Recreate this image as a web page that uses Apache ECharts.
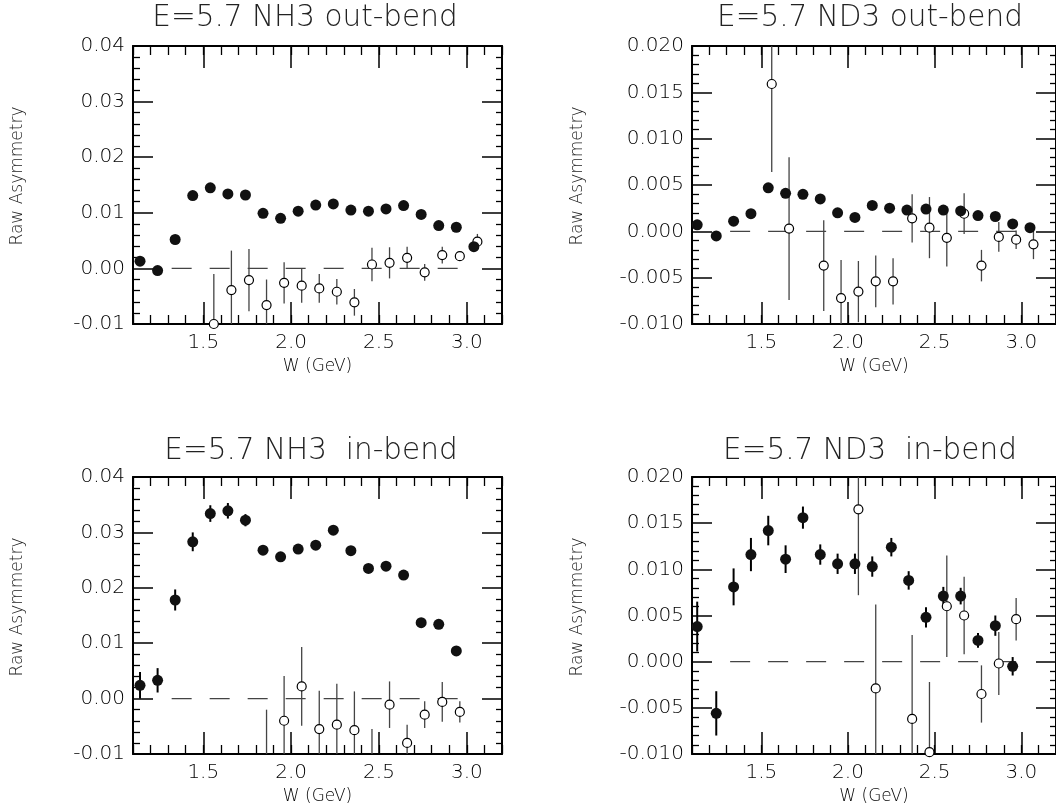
<!DOCTYPE html>
<html>
<head>
<meta charset="utf-8">
<script src="https://cdn.jsdelivr.net/npm/echarts@6/dist/echarts.min.js"></script>
<style>
html,body{margin:0;padding:0;background:#fff;}
#chart{width:1056px;height:808px;}
</style>
</head>
<body>
<div id="chart"></div>
<script>
// ---------- data ----------
const xTickValues = [1.5, 2.0, 2.5, 3.0];
const zeroLineW = [1.32, 2.98];

// Panel 1: E=5.7 NH3 out-bend
const nh3OutFilledW = [1.14,1.24,1.34,1.44,1.54,1.64,1.74,1.84,1.94,2.04,2.14,2.24,2.34,2.44,2.54,2.64,2.74,2.84,2.94,3.04];
const nh3OutFilledY = [0.0013,-0.0004,0.0052,0.0131,0.0145,0.0134,0.0132,0.0099,0.0090,0.0103,0.0114,0.0116,0.0105,0.0103,0.0107,0.0113,0.0097,0.0077,0.0074,0.0039];
const nh3OutFilledE = [0.0005,0.0005,0.0005,0.0005,0.0005,0.0004,0.0004,0.0004,0.0004,0.0004,0.0004,0.0004,0.0004,0.0004,0.0004,0.0004,0.0004,0.0004,0.0004,0.0004];
const nh3OutOpenW = [1.56,1.66,1.76,1.86,1.96,2.06,2.16,2.26,2.36,2.46,2.56,2.66,2.76,2.86,2.96,3.06];
const nh3OutOpenY = [-0.0100,-0.0039,-0.0021,-0.0066,-0.0026,-0.0031,-0.0036,-0.0042,-0.0061,0.0007,0.0010,0.0019,-0.0007,0.0024,0.0022,0.0048];
const nh3OutOpenE = [0.0090,0.0071,0.0056,0.0046,0.0037,0.0031,0.0026,0.0023,0.0024,0.0030,0.0028,0.0020,0.0015,0.0015,0.0008,0.0014];

// Panel 2: E=5.7 ND3 out-bend
const nd3OutFilledW = [1.13,1.24,1.34,1.44,1.54,1.64,1.74,1.84,1.94,2.04,2.14,2.24,2.34,2.45,2.55,2.65,2.75,2.85,2.95,3.05];
const nd3OutFilledY = [0.0007,-0.0005,0.0011,0.0019,0.0047,0.0041,0.0040,0.0035,0.0020,0.0015,0.0028,0.0025,0.0023,0.0024,0.0023,0.0022,0.0017,0.0016,0.0008,0.0004];
const nd3OutFilledE = [0.0005,0.0004,0.0005,0.0005,0.0004,0.0004,0.0003,0.0003,0.0003,0.0003,0.0003,0.0003,0.0003,0.0003,0.0003,0.0003,0.0003,0.0003,0.0003,0.0003];
const nd3OutOpenW = [1.56,1.66,1.86,1.96,2.06,2.16,2.26,2.37,2.47,2.57,2.67,2.77,2.87,2.97,3.07];
const nd3OutOpenY = [0.0159,0.0003,-0.0037,-0.0072,-0.0065,-0.0054,-0.0054,0.0014,0.0004,-0.0007,0.0019,-0.0037,-0.0006,-0.0009,-0.0014];
const nd3OutOpenE = [0.0095,0.0077,0.0049,0.0041,0.0033,0.0028,0.0025,0.0026,0.0033,0.0031,0.0022,0.0017,0.0016,0.0010,0.0016];

// Panel 3: E=5.7 NH3 in-bend
const nh3InFilledW = [1.14,1.24,1.34,1.44,1.54,1.64,1.74,1.84,1.94,2.04,2.14,2.24,2.34,2.44,2.54,2.64,2.74,2.84,2.94];
const nh3InFilledY = [0.0024,0.0033,0.0178,0.0283,0.0334,0.0339,0.0322,0.0268,0.0256,0.0270,0.0277,0.0304,0.0267,0.0235,0.0239,0.0223,0.0137,0.0134,0.0086];
const nh3InFilledE = [0.0024,0.0022,0.0019,0.0017,0.0015,0.0014,0.0011,0.0008,0.0008,0.0008,0.0008,0.0008,0.0007,0.0007,0.0007,0.0006,0.0006,0.0007,0.0006];
const nh3InOpenW = [1.86,1.96,2.06,2.16,2.26,2.36,2.46,2.56,2.66,2.76,2.86,2.96];
const nh3InOpenY = [-0.0130,-0.0040,0.0022,-0.0055,-0.0047,-0.0057,-0.0130,-0.0011,-0.0080,-0.0029,-0.0006,-0.0024];
const nh3InOpenE = [0.0110,0.0081,0.0071,0.0069,0.0074,0.0070,0.0075,0.0042,0.0033,0.0024,0.0036,0.0019];

// Panel 4: E=5.7 ND3 in-bend
const nd3InFilledW = [1.13,1.24,1.34,1.44,1.54,1.64,1.74,1.84,1.94,2.04,2.14,2.25,2.35,2.45,2.55,2.65,2.75,2.85,2.95];
const nd3InFilledY = [0.0038,-0.0056,0.0081,0.0116,0.0142,0.0111,0.0156,0.0116,0.0106,0.0106,0.0103,0.0124,0.0088,0.0048,0.0071,0.0071,0.0023,0.0039,-0.0005];
const nd3InFilledE = [0.0027,0.0024,0.0020,0.0018,0.0016,0.0015,0.0012,0.0011,0.0011,0.0011,0.0011,0.0010,0.0010,0.0011,0.0010,0.0009,0.0008,0.0011,0.0010];
const nd3InOpenW = [2.06,2.16,2.37,2.47,2.57,2.67,2.77,2.87,2.97];
const nd3InOpenY = [0.0165,-0.0029,-0.0062,-0.0098,0.0060,0.0050,-0.0035,-0.0002,0.0046];
const nd3InOpenE = [0.0093,0.0091,0.0091,0.0076,0.0055,0.0042,0.0031,0.0034,0.0023];

const titles = ['E=5.7 NH3 out-bend', 'E=5.7 ND3 out-bend', 'E=5.7 NH3  in-bend', 'E=5.7 ND3  in-bend'];
const yName = 'Raw Asymmetry';
const xName = 'W (GeV)';

// ---------- layout / style ----------
const FONT = '"DejaVu Sans", sans-serif';
const LABEL_W = 200;
const panels = [
  {grid:{left:133, top:46, width:369, height:278}, ymin:-0.01, ymax:0.04, yint:0.01, dec:2,
   fW:nh3OutFilledW, fY:nh3OutFilledY, fE:nh3OutFilledE, oW:nh3OutOpenW, oY:nh3OutOpenY, oE:nh3OutOpenE,
   tx:305, ty:18, nx:18, ny:176},
  {grid:{left:692, top:46, width:370, height:278}, ymin:-0.01, ymax:0.02, yint:0.005, dec:3,
   fW:nd3OutFilledW, fY:nd3OutFilledY, fE:nd3OutFilledE, oW:nd3OutOpenW, oY:nd3OutOpenY, oE:nd3OutOpenE,
   tx:870, ty:18, nx:578, ny:176},
  {grid:{left:133, top:477, width:369, height:277}, ymin:-0.01, ymax:0.04, yint:0.01, dec:2,
   fW:nh3InFilledW, fY:nh3InFilledY, fE:nh3InFilledE, oW:nh3InOpenW, oY:nh3InOpenY, oE:nh3InOpenE,
   tx:311, ty:451, nx:18, ny:607},
  {grid:{left:692, top:477, width:370, height:277}, ymin:-0.01, ymax:0.02, yint:0.005, dec:3,
   fW:nd3InFilledW, fY:nd3InFilledY, fE:nd3InFilledE, oW:nd3InOpenW, oY:nd3InOpenY, oE:nd3InOpenE,
   tx:870, ty:451, nx:578, ny:607}
];

const grids = [], xAxes = [], yAxes = [], series = [], graphics = [];

function errRender(color, width) {
  return function (params, api) {
    const x = api.value(0), y = api.value(1), e = api.value(2);
    const p1 = api.coord([x, y - e]);
    const p2 = api.coord([x, y + e]);
    return {type:'line', shape:{x1:p1[0], y1:p1[1], x2:p2[0], y2:p2[1]},
            style:{stroke:color, lineWidth:width}};
  };
}

panels.forEach((p, i) => {
  grids.push(Object.assign({containLabel:false}, p.grid));
  const xb = {type:'value', gridIndex:i, min:1.1, max:3.2, splitLine:{show:false}};
  const xi = xAxes.length;
  xAxes.push(Object.assign({}, xb, {
    position:'bottom',
    axisLine:{show:true, onZero:false, lineStyle:{color:'#000', width:2}},
    axisTick:{show:true, inside:true, length:22, customValues:xTickValues, lineStyle:{color:'#000', width:1.5}},
    axisLabel:{show:true, customValues:xTickValues, formatter:v => Number(v).toFixed(1), margin:9,
               fontSize:20, fontWeight:LABEL_W, fontFamily:FONT, color:'#000'},
    name:xName, nameLocation:'middle', nameGap:34,
    nameTextStyle:{fontSize:17, fontWeight:LABEL_W, fontFamily:FONT, color:'#000'}
  }));
  xAxes.push(Object.assign({}, xb, {
    position:'bottom', interval:0.1,
    axisLine:{show:false, onZero:false},
    axisTick:{show:true, inside:true, length:9, lineStyle:{color:'#000', width:1.3}},
    axisLabel:{show:false}
  }));
  xAxes.push(Object.assign({}, xb, {
    position:'top',
    axisLine:{show:true, onZero:false, lineStyle:{color:'#000', width:2}},
    axisTick:{show:true, inside:true, length:22, customValues:xTickValues, lineStyle:{color:'#000', width:1.5}},
    axisLabel:{show:false}
  }));
  xAxes.push(Object.assign({}, xb, {
    position:'top', interval:0.1,
    axisLine:{show:false, onZero:false},
    axisTick:{show:true, inside:true, length:9, lineStyle:{color:'#000', width:1.3}},
    axisLabel:{show:false}
  }));
  const yb = {type:'value', gridIndex:i, min:p.ymin, max:p.ymax, interval:p.yint,
              splitLine:{show:false}, minorSplitLine:{show:false}};
  const yi = yAxes.length;
  yAxes.push(Object.assign({}, yb, {
    position:'left',
    axisLine:{show:true, onZero:false, lineStyle:{color:'#000', width:2}},
    axisTick:{show:true, inside:true, length:20, lineStyle:{color:'#000', width:1.5}},
    minorTick:{show:true, splitNumber:5, length:7, lineStyle:{color:'#000', width:1.3}},
    axisLabel:{show:true, formatter:v => Number(v).toFixed(p.dec), margin:8,
               fontSize:20, fontWeight:LABEL_W, fontFamily:FONT, color:'#000'}
  }));
  yAxes.push(Object.assign({}, yb, {
    position:'right',
    axisLine:{show:true, onZero:false, lineStyle:{color:'#000', width:2}},
    axisTick:{show:true, inside:true, length:20, lineStyle:{color:'#000', width:1.5}},
    minorTick:{show:true, splitNumber:5, length:6, lineStyle:{color:'#000', width:1.3}},
    axisLabel:{show:false}
  }));

  series.push({type:'line', xAxisIndex:xi, yAxisIndex:yi, silent:true, symbol:'none', z:1,
    data: zeroLineW.map(w => [w, 0]),
    lineStyle:{color:'#444', width:1.3, type:[20,18]}});
  series.push({type:'custom', xAxisIndex:xi, yAxisIndex:yi, clip:true, silent:true, z:2,
    renderItem: errRender('#444', 1.3),
    data: p.oW.map((w, k) => [w, p.oY[k], p.oE[k]])});
  series.push({type:'custom', xAxisIndex:xi, yAxisIndex:yi, clip:true, silent:true, z:2,
    renderItem: errRender('#000', 2),
    data: p.fW.map((w, k) => [w, p.fY[k], p.fE[k]])});
  series.push({type:'scatter', xAxisIndex:xi, yAxisIndex:yi, clip:true, silent:true, z:3,
    symbol:'circle', symbolSize:9,
    itemStyle:{color:'#fff', borderColor:'#000', borderWidth:1.2, opacity:1},
    data: p.oW.map((w, k) => [w, p.oY[k]])});
  series.push({type:'scatter', xAxisIndex:xi, yAxisIndex:yi, clip:true, silent:true, z:4,
    symbol:'circle', symbolSize:11,
    itemStyle:{color:'#111', opacity:1},
    data: p.fW.map((w, k) => [w, p.fY[k]])});

  graphics.push({type:'text', x:p.tx, y:p.ty, silent:true,
    style:{text:titles[i], fill:'#222', fontSize:29.5, fontWeight:200, fontFamily:FONT,
           textAlign:'center', textVerticalAlign:'middle'}});
  graphics.push({type:'text', x:p.nx, y:p.ny, rotation:Math.PI/2, silent:true,
    style:{text:yName, fill:'#222', fontSize:17, fontWeight:LABEL_W, fontFamily:FONT,
           textAlign:'center', textVerticalAlign:'middle'}});
});

const chart = echarts.init(document.getElementById('chart'), null, {renderer:'canvas'});
chart.setOption({
  animation:false,
  backgroundColor:'#fff',
  grid:grids, xAxis:xAxes, yAxis:yAxes, series:series, graphic:graphics
});
</script>
</body>
</html>
